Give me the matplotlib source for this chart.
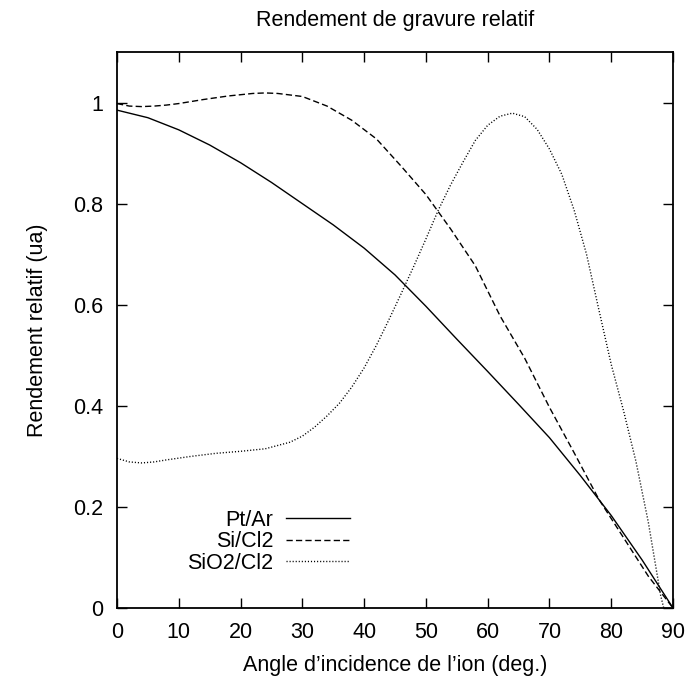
import matplotlib
matplotlib.use('Agg')
import matplotlib.pyplot as plt
import matplotlib.ticker as ticker

plt.rcParams['font.family'] = ['Liberation Sans', 'DejaVu Sans']

# Pt/Ar (solid)
pt_x = [0, 5, 10, 15, 20, 25, 30, 35, 40, 45, 50, 55, 60, 65, 70, 75, 80, 85, 90]
pt_y = [0.985, 0.970, 0.946, 0.916, 0.881, 0.842, 0.800, 0.758, 0.712, 0.659, 0.597,
        0.532, 0.468, 0.403, 0.337, 0.262, 0.183, 0.095, 0.0]

# Si/Cl2 (dashed)
si_x = [0, 2, 4, 6, 8, 10, 14, 18, 22, 24, 26, 30, 34, 38, 42, 46, 50, 54, 58, 62,
        66, 70, 74, 78, 82, 86, 90]
si_y = [0.998, 0.993, 0.992, 0.993, 0.995, 0.998, 1.006, 1.013, 1.018, 1.019, 1.018,
        1.012, 0.993, 0.965, 0.928, 0.874, 0.818, 0.75, 0.677, 0.578, 0.494, 0.397,
        0.307, 0.215, 0.139, 0.063, 0.0]

# SiO2/Cl2 (dotted)
sio2_x = [0, 2, 4, 6, 8, 12, 16, 20, 24, 28, 30, 32, 34, 36, 38, 40, 42, 44, 46, 48,
          50, 52, 54, 56, 58, 60, 62, 64, 66, 68, 70, 72, 74, 76, 78, 80, 82, 84, 86,
          88, 88.5]
sio2_y = [0.296, 0.289, 0.287, 0.289, 0.293, 0.300, 0.306, 0.31, 0.315, 0.328, 0.340,
          0.358, 0.38, 0.405, 0.437, 0.475, 0.52, 0.57, 0.622, 0.675, 0.73, 0.787,
          0.837, 0.882, 0.925, 0.955, 0.973, 0.979, 0.972, 0.947, 0.908, 0.858, 0.787,
          0.70, 0.59, 0.482, 0.39, 0.29, 0.17, 0.025, 0.0]

fig = plt.figure(figsize=(6.91, 6.80), dpi=100)
ax = fig.add_axes([117 / 691, 1 - 608 / 680, 556 / 691, 556 / 680])

ax.plot(pt_x, pt_y, color='black', lw=1.0, label='Pt/Ar')
ax.plot(si_x, si_y, color='black', lw=1.0, linestyle=(0, (4.5, 2.3)), label='Si/Cl2')
ax.plot(sio2_x, sio2_y, color='black', lw=1.0, linestyle=(0, (0.8, 1.4)), label='SiO2/Cl2')

ax.set_xlim(0, 90)
ax.set_ylim(0, 1.1)
ax.xaxis.set_major_locator(ticker.MultipleLocator(10))
ax.yaxis.set_major_locator(ticker.FixedLocator([0, 0.2, 0.4, 0.6, 0.8, 1.0]))
ax.yaxis.set_major_formatter(ticker.FuncFormatter(lambda v, p: '%g' % v))
ax.tick_params(direction='in', length=7, width=1.0, top=True, right=True,
               labelsize=15.5, pad=10)
for s in ax.spines.values():
    s.set_linewidth(1.3)

ax.set_xlabel("Angle d\u2019incidence de l\u2019ion (deg.)", fontsize=15.5, labelpad=9)
ax.set_ylabel('Rendement relatif (ua)', fontsize=15.5, labelpad=18)
ax.set_title('Rendement de gravure relatif', fontsize=15.5, pad=19)

ax.legend(loc='lower right', bbox_to_anchor=(0.438, 0.042), frameon=False,
          markerfirst=False, fontsize=15.5, handlelength=2.95, handletextpad=0.6,
          labelspacing=0.02, borderpad=0)

fig.savefig('out.png', dpi=100)
